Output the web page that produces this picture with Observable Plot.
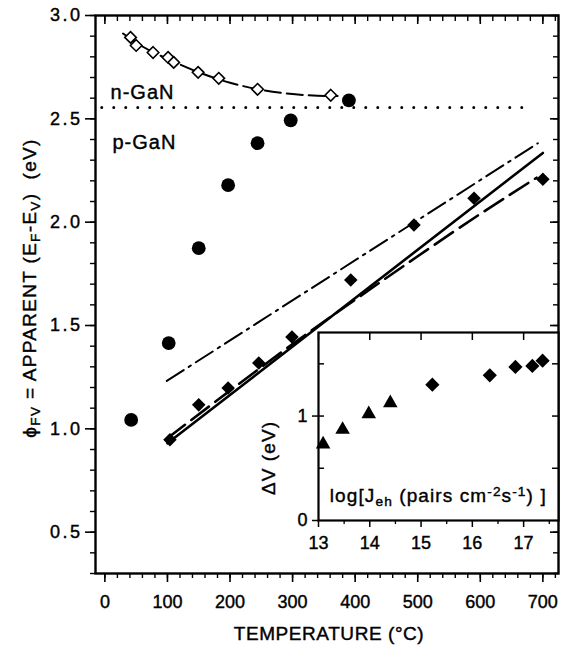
<!DOCTYPE html>
<html><head><meta charset="utf-8">
<script src="https://cdn.jsdelivr.net/npm/d3@7"></script>
<script src="https://cdn.jsdelivr.net/npm/@observablehq/plot@0.6"></script>
<style>
body{margin:0;background:#fff;}
#wrap{position:relative;width:561px;height:647px;overflow:hidden;}
#wrap svg{position:absolute;}
#wrap svg text{stroke:#000;stroke-width:0.4px;}
</style></head><body><div id="wrap"></div>
<script>
// ---------------- data ----------------
const nGaN_T    = [41, 50, 77, 101, 110, 149, 182, 244, 361];
const nGaN_phi  = [2.894, 2.855, 2.821, 2.797, 2.773, 2.725, 2.696, 2.643, 2.614];
const nFit_T    = [29, 60, 100, 150, 200, 250, 300, 340, 372];
const nFit_phi  = [2.913, 2.85, 2.79, 2.725, 2.675, 2.64, 2.62, 2.612, 2.61];
const pCirc_T   = [42, 102, 150, 197, 244, 297, 390];
const pCirc_phi = [1.043, 1.415, 1.874, 2.179, 2.382, 2.493, 2.589];
const pDia_T    = [104, 150, 197, 246, 299, 393, 494, 590, 700];
const pDia_phi  = [0.947, 1.116, 1.198, 1.319, 1.444, 1.720, 1.986, 2.116, 2.208];
const boundary_T   = [-5, 685];
const boundary_phi = [2.555, 2.555];
const solid_T    = [100, 700];
const solid_phi  = [0.93, 2.335];
const dashed_T   = [100, 200, 300, 400, 500, 600, 690];
const dashed_phi = [0.955, 1.185, 1.41, 1.625, 1.835, 2.04, 2.215];
const dashDot_T   = [99, 692];
const dashDot_phi = [1.232, 2.382];

const insetTri_logJ = [13.09, 13.47, 13.98, 14.40];
const insetTri_dV   = [0.73, 0.87, 1.02, 1.125];
const insetDia_logJ = [15.22, 16.34, 16.84, 17.17, 17.37];
const insetDia_dV   = [1.30, 1.39, 1.47, 1.48, 1.53];

// tick values
const yMajor = [0.5, 1.0, 1.5, 2.0, 2.5, 3.0];
const yMinor = [0.3,0.4,0.5,0.6,0.7,0.8,0.9,1.0,1.1,1.2,1.3,1.4,1.5,1.6,1.7,1.8,1.9,2.0,2.1,2.2,2.3,2.4,2.5,2.6,2.7,2.8,2.9,3.0];
const xMajor = [0, 100, 200, 300, 400, 500, 600, 700];
const xMinor = [0,20,40,60,80,100,120,140,160,180,200,220,240,260,280,300,320,340,360,380,400,420,440,460,480,500,520,540,560,580,600,620,640,660,680,700,720];
const insetXMajor = [13, 14, 15, 16, 17];
const insetXMinor = [13.5, 14.5, 15.5, 16.5, 17.5];
const insetYLabels = [0, 1];
const insetYTicks = [0.5, 1, 1.5];

const zip = (xs, ys) => xs.map((x, i) => ({x, y: ys[i]}));

const FONT = "'Liberation Sans', Arial, Helvetica, sans-serif";
const baseStyle = {fontFamily: FONT, fontSize: "18px", color: "#000", background: "transparent", overflow: "visible"};

// ---------------- main chart ----------------
const main = Plot.plot({
  width: 561, height: 647,
  marginLeft: 95, marginRight: 3, marginTop: 15, marginBottom: 74,
  x: {domain: [-15, 725]},
  y: {domain: [0.3, 3.0]},
  style: baseStyle,
  marks: [
    Plot.axisY(yMajor, {anchor: "left", tickSize: 10, tickPadding: 3, tickFormat: d3.format(".1f"), strokeWidth: 1.6, label: null}),
    Plot.axisY(yMinor, {anchor: "left", tickSize: 5, fill: "none", strokeWidth: 1.4, label: null}),
    Plot.axisY(yMajor, {anchor: "right", tickSize: -9, fill: "none", strokeWidth: 1.6, label: null}),
    Plot.axisY(yMinor, {anchor: "right", tickSize: -6, fill: "none", strokeWidth: 1.4, label: null}),
    Plot.axisX(xMajor, {anchor: "bottom", tickSize: 9, tickPadding: 13, tickFormat: d3.format("d"), strokeWidth: 1.6, label: null}),
    Plot.axisX(xMinor, {anchor: "bottom", tickSize: 5, fill: "none", strokeWidth: 1.4, label: null}),
    Plot.axisX(xMajor, {anchor: "top", tickSize: -8, fill: "none", strokeWidth: 1.6, label: null}),
    Plot.axisX(xMinor, {anchor: "top", tickSize: -5, fill: "none", strokeWidth: 1.4, label: null}),
    Plot.frame({stroke: "#000", strokeWidth: 2.4}),
    Plot.line(zip(boundary_T, boundary_phi), {x: "x", y: "y", stroke: "#000", strokeWidth: 3, strokeDasharray: "0,12", strokeLinecap: "round"}),
    Plot.line(zip(nFit_T, nFit_phi), {x: "x", y: "y", stroke: "#000", strokeWidth: 2, strokeDasharray: "16,6", curve: "natural"}),
    Plot.line(zip(solid_T, solid_phi), {x: "x", y: "y", stroke: "#000", strokeWidth: 2.6}),
    Plot.line(zip(dashed_T, dashed_phi), {x: "x", y: "y", stroke: "#000", strokeWidth: 2.6, strokeDasharray: "22,8", curve: "natural"}),
    Plot.line(zip(dashDot_T, dashDot_phi), {x: "x", y: "y", stroke: "#000", strokeWidth: 2, strokeDasharray: "20,6,2.5,6"}),
    Plot.dot(zip(nGaN_T, nGaN_phi), {x: "x", y: "y", symbol: "diamond2", r: 5.2, fill: "white", stroke: "#000", strokeWidth: 1.6}),
    Plot.dot(zip(pCirc_T, pCirc_phi), {x: "x", y: "y", symbol: "circle", r: 6.9, fill: "#000", stroke: "none"}),
    Plot.dot(zip(pDia_T, pDia_phi), {x: "x", y: "y", symbol: "diamond2", r: 6.1, fill: "#000", stroke: "none"}),
    Plot.text(["n-GaN"], {x: 9, y: 2.625, textAnchor: "start", fontSize: 20, fill: "#000"}),
    Plot.text(["p-GaN"], {x: 12, y: 2.385, textAnchor: "start", fontSize: 20, fill: "#000"})
  ]
});
main.style.left = "0px"; main.style.top = "0px";

// ---------------- inset ----------------
const inset = Plot.plot({
  width: 321, height: 240,
  marginLeft: 78, marginRight: 3, marginTop: 12, marginBottom: 40,
  x: {domain: [13, 17.68]},
  y: {domain: [0, 1.8]},
  style: baseStyle,
  marks: [
    Plot.frame({fill: "white", stroke: "none"}),
    Plot.axisY(insetYLabels, {anchor: "left", tickSize: 6, tickPadding: 5, tickFormat: d3.format("d"), strokeWidth: 1.5, label: null}),
    Plot.axisY(insetYTicks, {anchor: "left", tickSize: -6, fill: "none", strokeWidth: 1.5, label: null}),
    Plot.axisY(insetYTicks, {anchor: "right", tickSize: -7, fill: "none", strokeWidth: 1.5, label: null}),
    Plot.axisX(insetXMajor, {anchor: "bottom", tickSize: 7, tickPadding: 9, tickFormat: d3.format("d"), strokeWidth: 1.5, label: null}),
    Plot.axisX(insetXMinor, {anchor: "bottom", tickSize: 4, fill: "none", strokeWidth: 1.3, label: null}),
    Plot.axisX(insetXMajor, {anchor: "top", tickSize: -7, fill: "none", strokeWidth: 1.5, label: null}),
    Plot.frame({stroke: "#000", strokeWidth: 2.2}),
    Plot.dot(zip(insetTri_logJ, insetTri_dV), {x: "x", y: "y", symbol: "triangle", r: 5.4, fill: "#000", stroke: "none"}),
    Plot.dot(zip(insetDia_logJ, insetDia_dV), {x: "x", y: "y", symbol: "diamond2", r: 6.4, fill: "#000", stroke: "none"})
  ]
});
inset.style.left = "240px"; inset.style.top = "320px";

const wrap = document.getElementById("wrap");
wrap.appendChild(main);
wrap.appendChild(inset);

// ---------------- text helpers ----------------
function rich(textSel, parts, size) {
  parts.forEach(([s, kind]) => {
    const t = textSel.append("tspan").text(s);
    if (kind === "sub") t.attr("font-size", size * 0.72).attr("baseline-shift", "-28%");
    if (kind === "sup") t.attr("font-size", size * 0.72).attr("baseline-shift", "45%");
  });
}
// spread the letters so the text spans the same length as in the figure
function fitLength(el, target) {
  const n = el.getNumberOfChars();
  const len = el.getComputedTextLength();
  if (n > 1 && len > 0) el.setAttribute("letter-spacing", ((target - len) / (n - 1)).toFixed(2) + "px");
}

const ms = d3.select(main);
// widen the y tick labels like the figure's typeface
ms.selectAll("g[aria-label='y-axis tick label'] text").attr("letter-spacing", "2.5px");

// y-axis title
const yt = ms.append("text")
  .attr("transform", "translate(29,288) rotate(-90)")
  .attr("text-anchor", "middle").attr("dy", "0.36em")
  .attr("font-size", 19).attr("fill", "#000").style("font-family", FONT);
rich(yt, [["ϕ"], ["FV", "sub"], [" = APPARENT (E"], ["F", "sub"], ["-E"], ["V", "sub"], [")  (eV)"]], 19);
fitLength(yt.node(), 298);

// x-axis title
const xt = ms.append("text")
  .attr("x", 329).attr("y", 640)
  .attr("text-anchor", "middle")
  .attr("font-size", 19).attr("fill", "#000").style("font-family", FONT)
  .text("TEMPERATURE (°C)");
fitLength(xt.node(), 190);

// n-GaN / p-GaN labels
ms.selectAll("text").filter(function () { return this.textContent === "n-GaN" || this.textContent === "p-GaN"; })
  .each(function () { fitLength(this, 63); });

const is = d3.select(inset);
const ix = inset.scale("x"), iy = inset.scale("y");
// inset y title
const dvt = is.append("text")
  .attr("transform", `translate(28,138) rotate(-90)`)
  .attr("text-anchor", "middle").attr("dy", "0.36em")
  .attr("font-size", 19).attr("fill", "#000").style("font-family", FONT)
  .text("ΔV (eV)");
fitLength(dvt.node(), 73);
// inset x title (inside frame)
const il = is.append("text")
  .attr("x", ix.apply(13.23)).attr("y", iy.apply(0.17))
  .attr("text-anchor", "start")
  .attr("font-size", 19).attr("fill", "#000").style("font-family", FONT);
rich(il, [["log[J"], ["eh", "sub"], [" (pairs cm"], ["-2", "sup"], ["s"], ["-1", "sup"], [") ]"]], 19);
fitLength(il.node(), 216);
</script></body></html>
